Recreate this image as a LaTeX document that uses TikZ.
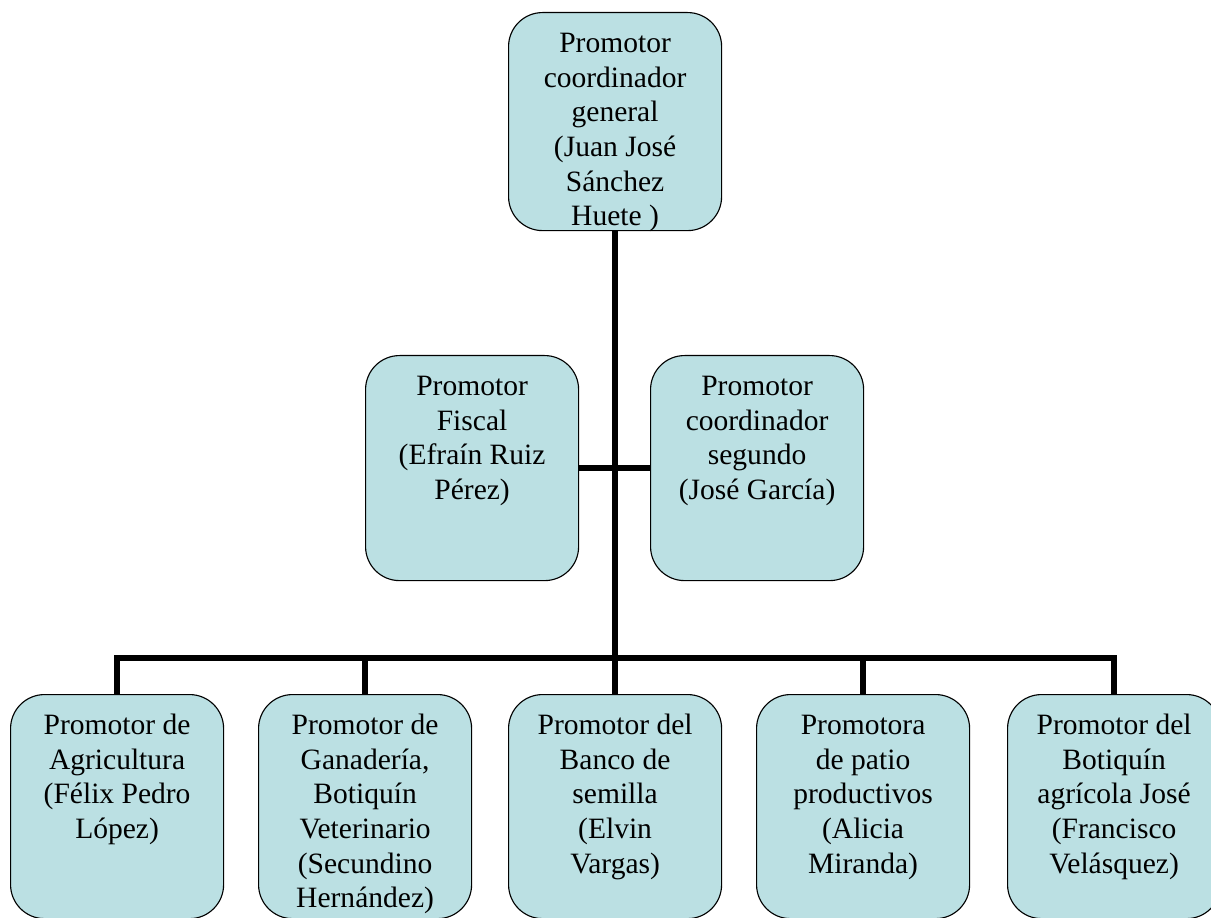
\documentclass[tikz,border=0pt]{standalone}
\usepackage{fontspec}
\setmainfont{Liberation Serif}
\definecolor{cajafondo}{HTML}{BBE0E3}
\newcommand{\cajatexto}[2]{\parbox[t][#1][t]{5.325cm}{\centering\vspace*{0.4cm}\strut #2}}

\begin{document}
\begin{tikzpicture}[
    x=0.025cm, y=-0.025cm,
    caja/.style={draw, fill=cajafondo, line width=0.8pt, rounded corners=0.85cm,
        inner sep=0pt, anchor=north west, font=\fontsize{21pt}{24.6pt}\selectfont},
    linea/.style={line width=4.2pt}
]
    \clip (0,0) rectangle (1211,918);
    % Coordinator and the two promoters beside him
    \node[caja] (General) at (508,12) {\cajatexto{5.45cm}{Promotor\\coordinador\\general\\(Juan José\\Sánchez\\Huete )}};
    \node[caja] (Fiscal) at (365,355) {\cajatexto{5.625cm}{Promotor\\Fiscal\\(Efraín Ruiz\\Pérez)}};
    \node[caja] (Segundo) at (650,355) {\cajatexto{5.625cm}{Promotor\\coordinador\\segundo\\(José García)}};
    % Promoters of each area
    \foreach \i/\x/\texto in {1/10/{Promotor de\\Agricultura\\(Félix Pedro\\López)},
        2/258/{Promotor de\\Ganadería,\\Botiquín\\Veterinario\\(Secundino\\Hernández)},
        3/508/{Promotor del\\Banco de\\semilla\\(Elvin\\Vargas)},
        4/756/{Promotora\\de patio\\productivos\\(Alicia\\Miranda)},
        5/1007/{Promotor del\\Botiquín\\agrícola José\\(Francisco\\Velásquez)}} {
        \node[caja] (B\i) at (\x,694) {\cajatexto{5.6cm}{\texto}};
    }
    \coordinate (Bus) at (General.south |- 0,658);
    % Connectors
    \draw[linea] (General.south) -- (Bus);
    \draw[linea] (Fiscal.east) -- (Segundo.west);
    \draw[linea] (B1.north) |- (Bus) -| (B5.north);
    \foreach \i in {2,3,4} {
        \draw[linea] (B\i.north) -- (B\i.north |- Bus);
    }
\end{tikzpicture}
\end{document}
